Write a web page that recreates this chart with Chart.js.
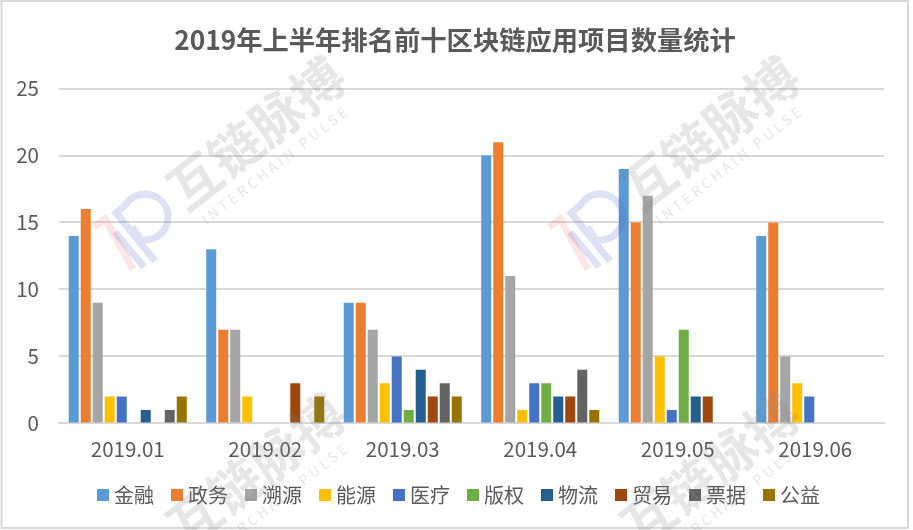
<!DOCTYPE html>
<html>
<head>
<meta charset="utf-8">
<style>
body { margin: 0; background: #fff; }
</style>
<script src="https://cdn.jsdelivr.net/npm/chart.js@4/dist/chart.umd.min.js"></script>
</head>
<body>
<canvas id="myChart" width="913" height="530"></canvas>
<script>
const months = ['2019.01', '2019.02', '2019.03', '2019.04', '2019.05', '2019.06'];

const jinrong  = [14, 13, 9, 20, 19, 14];
const zhengwu  = [16, 7, 9, 21, 15, 15];
const suyuan   = [9, 7, 7, 11, 17, 5];
const nengyuan = [2, 2, 3, 1, 5, 3];
const yiliao   = [2, 0, 5, 3, 1, 2];
const banquan  = [0, 0, 1, 3, 7, 0];
const wuliu    = [1, 0, 4, 2, 2, 0];
const maoyi    = [0, 3, 2, 2, 2, 0];
const piaoju   = [1, 0, 3, 4, 0, 0];
const gongyi   = [2, 2, 2, 1, 0, 0];

const names = ['金融', '政务', '溯源', '能源', '医疗', '版权', '物流', '贸易', '票据', '公益'];
const values = [jinrong, zhengwu, suyuan, nengyuan, yiliao, banquan, wuliu, maoyi, piaoju, gongyi];
const colors = ['#5b9bd5', '#ed7d31', '#a5a5a5', '#ffc000', '#4472c4', '#70ad47', '#255e91', '#9e480e', '#636363', '#997300'];

const FONT = '"Noto Sans CJK SC", "Noto Sans", sans-serif';
const TEXT = '#595959';
const GRID = '#d9d9d9';

// legend swatch, chart.js puts the text too far from a plain box
// so the box sits at the right edge of a wider see-through image
function swatch(color) {
    const c = document.createElement('canvas');
    c.width = 24;
    c.height = 12;
    const g = c.getContext('2d');
    g.fillStyle = color;
    g.fillRect(12, 0, 12, 12);
    return c;
}

function drawMark(ctx, x, y) {
    ctx.save();
    ctx.translate(x, y);
    ctx.rotate(-38 * Math.PI / 180);
    ctx.textAlign = 'center';
    ctx.textBaseline = 'middle';
    ctx.fillStyle = 'rgba(130,130,130,0.2)';
    ctx.font = 'bold 52px ' + FONT;
    ctx.fillText('互链脉搏', 0, 0);
    ctx.font = '14px ' + FONT;
    ctx.letterSpacing = '3.5px';
    ctx.fillText('INTERCHAIN PULSE', -4, 37);
    ctx.restore();
}

function drawLogo(ctx, x, y) {
    ctx.save();
    ctx.translate(x, y);
    ctx.lineWidth = 7;
    ctx.strokeStyle = 'rgba(237,110,110,0.18)';
    ctx.beginPath();
    ctx.moveTo(4, 57);
    ctx.lineTo(15, 49);
    ctx.lineTo(43, 99);
    ctx.stroke();
    ctx.strokeStyle = 'rgba(90,100,200,0.2)';
    ctx.beginPath();
    ctx.moveTo(65, 91);
    ctx.lineTo(26, 43);
    ctx.arc(55, 47, 23, -2.6, 1.75);
    ctx.lineTo(42, 57);
    ctx.stroke();
    ctx.beginPath();
    ctx.moveTo(25, 62);
    ctx.lineTo(54, 97);
    ctx.stroke();
    ctx.restore();
}

const background = {
    id: 'background',
    afterDraw(chart) {
        const ctx = chart.ctx;
        ctx.save();
        ctx.strokeStyle = GRID;
        ctx.lineWidth = 2;
        ctx.strokeRect(1.5, 1, 906.5, 527);
        ctx.restore();
        drawMark(ctx, 256, 133);
        drawMark(ctx, 710, 133);
        drawMark(ctx, 256, 470);
        drawMark(ctx, 710, 470);
        drawLogo(ctx, 90, 170);
        drawLogo(ctx, 545, 170);
    }
};

new Chart(document.getElementById('myChart'), {
    type: 'bar',
    data: {
        labels: months,
        datasets: names.map((name, i) => ({
            label: name,
            data: values[i],
            backgroundColor: colors[i],
            categoryPercentage: 0.873,
            barPercentage: 0.833
        }))
    },
    options: {
        responsive: false,
        animation: false,
        layout: { padding: { top: 0, right: 3, bottom: 15, left: 0 } },
        plugins: {
            title: {
                display: true,
                text: '2019年上半年排名前十区块链应用项目数量统计',
                color: TEXT,
                font: { family: FONT, size: 26.3, weight: 'bold' },
                padding: { top: 24, bottom: 33 }
            },
            legend: {
                position: 'bottom',
                labels: {
                    color: TEXT,
                    font: { family: FONT, size: 20 },
                    usePointStyle: true,
                    pointStyleWidth: 14,
                    padding: 10,
                    generateLabels: () => names.map((name, i) => ({
                        text: name,
                        fontColor: TEXT,
                        pointStyle: swatch(colors[i]),
                        datasetIndex: i
                    }))
                }
            },
            tooltip: { enabled: false }
        },
        scales: {
            x: {
                afterFit(scale) { scale.height += 7; },
                grid: { display: false },
                border: { color: GRID, width: 2 },
                ticks: { color: TEXT, font: { family: FONT, size: 20.5 }, padding: 6 }
            },
            y: {
                min: 0,
                max: 25,
                afterFit(scale) { scale.width = 59; },
                grid: { color: GRID, lineWidth: 2, drawTicks: false },
                border: { display: false },
                ticks: { color: TEXT, stepSize: 5, font: { family: FONT, size: 20.5 }, padding: 20 }
            },
            yRight: {
                position: 'right',
                afterFit(scale) { scale.width = 26; },
                grid: { display: false },
                border: { display: false },
                ticks: { display: false }
            }
        }
    },
    plugins: [background]
});
</script>
</body>
</html>
